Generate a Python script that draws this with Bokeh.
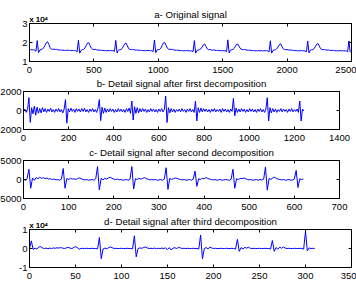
from bokeh.plotting import figure
from bokeh.layouts import column
from bokeh.models import LinearAxis, FixedTicker, Label, Range1d, Title
from bokeh.embed import file_html
from bokeh.resources import INLINE

FONT = "Liberation Sans"
BLUE = "#0000ff"

# ---------------- data ----------------
# a- original signal, one value every 10 samples, in units of 1e4
A_STEP = 10
A_Y = [
    1.62, 1.63, 1.61, 1.62, 1.60, 1.54, 2.10, 1.46, 1.60, 1.63,
    1.65, 1.72, 1.85, 1.99, 2.04, 1.90, 1.72, 1.65, 1.64, 1.65,
    1.63, 1.64, 1.62, 1.60, 1.61, 1.59, 1.60, 1.58, 1.59, 1.58,
    1.60, 1.58, 1.57, 1.59, 1.57, 1.58, 1.56, 1.52, 2.12, 1.44,
    1.58, 1.62, 1.64, 1.70, 1.83, 1.97, 1.99, 1.84, 1.70, 1.64,
    1.63, 1.64, 1.62, 1.61, 1.59, 1.60, 1.58, 1.59, 1.57, 1.58,
    1.56, 1.58, 1.57, 1.58, 1.56, 1.57, 1.53, 2.11, 1.45, 1.59,
    1.62, 1.63, 1.69, 1.81, 1.94, 1.97, 1.82, 1.68, 1.63, 1.64,
    1.62, 1.63, 1.60, 1.61, 1.59, 1.60, 1.58, 1.59, 1.57, 1.58,
    1.56, 1.58, 1.57, 1.58, 1.56, 1.57, 1.52, 2.13, 1.46, 1.60,
    1.63, 1.64, 1.70, 1.84, 1.98, 2.00, 1.85, 1.70, 1.65, 1.64,
    1.63, 1.64, 1.61, 1.60, 1.59, 1.60, 1.58, 1.57, 1.58, 1.56,
    1.57, 1.56, 1.58, 1.56, 1.57, 1.55, 1.56, 1.52, 2.10, 1.44,
    1.58, 1.61, 1.62, 1.66, 1.76, 1.88, 1.92, 1.80, 1.67, 1.62,
    1.63, 1.61, 1.60, 1.61, 1.59, 1.58, 1.59, 1.57, 1.58, 1.56,
    1.57, 1.56, 1.57, 1.52, 2.14, 1.45, 1.59, 1.62, 1.64, 1.70,
    1.82, 1.92, 1.90, 1.76, 1.66, 1.63, 1.62, 1.63, 1.61, 1.60,
    1.59, 1.60, 1.58, 1.57, 1.58, 1.56, 1.57, 1.56, 1.58, 1.56,
    1.57, 1.55, 1.57, 1.56, 1.57, 1.56, 1.51, 2.09, 1.44, 1.58,
    1.61, 1.62, 1.67, 1.77, 1.89, 1.93, 1.80, 1.67, 1.63, 1.62,
    1.63, 1.61, 1.60, 1.61, 1.59, 1.58, 1.57, 1.58, 1.56, 1.57,
    1.56, 1.58, 1.56, 1.57, 1.55, 1.51, 2.08, 1.45, 1.59, 1.62,
    1.63, 1.68, 1.80, 1.91, 1.94, 1.81, 1.68, 1.63, 1.62, 1.63,
    1.61, 1.60, 1.61, 1.59, 1.58, 1.59, 1.57, 1.58, 1.56, 1.57,
    1.56, 1.58, 1.56, 1.57, 1.56, 1.57, 1.55, 1.51, 2.08, 1.48,
]
A_XTICKS = [0, 500, 1000, 1500, 2000, 2500]
A_XLABELS = ["0", "500", "1000", "1500", "2000", "2500"]
A_YTICKS = [1, 2, 3]
A_YLABELS = ["1", "2", "3"]

# b- detail after first decomposition, one value every 6 samples
B_STEP = 6
B_Y = [
    0, 150, -200, 100, 1350, -1250, 300, -350, 450, -500,
    350, -300, 200, -250, 300, -150, 200, -200, 150, -100,
    250, -150, 100, -200, 150, -100, 200, -150, 100, -250,
    150, 1150, -1330, 200, -150, 250, -100, 150, -200, 200,
    -100, 150, -150, 200, -100, 250, -150, 100, -200, 150,
    -100, 200, -150, 100, -200, 250, 1150, -1070, 350, -300,
    250, -200, 150, -150, 200, -100, 150, -200, 100, -150,
    200, -100, 150, -150, 100, -200, 200, -100, 250, -300,
    1000, -1000, 400, -300, 300, -250, 200, -150, 200, -100,
    150, -200, 100, -150, 200, -100, 150, -150, 100, -200,
    150, -100, 200, -150, 100, 1520, -1260, 300, -250, 200,
    -150, 150, -200, 100, -100, 150, -150, 200, -100, 100,
    -200, 150, -100, 200, -150, 100, -200, 1000, -1100, 300,
    -200, 250, -150, 200, -100, 150, -150, 100, -200, 150,
    -100, 200, -150, 100, -100, 150, -200, 200, -100, 150,
    -150, 100, -200, 150, -100, 1280, -560, 250, -200, 150,
    -150, 200, -100, 150, -200, 100, -150, 200, -100, 150,
    -150, 100, -200, 150, -100, 200, -150, 100, -200, 150,
    1350, -1100, 300, -250, 200, -150, 150, -200, 100, -100,
    200, -150, 150, -100, 100, -200, 150, -100, 200, -150,
    100, -100, 150, -200, 1000, -1100, 150, -50,
]
B_XTICKS = [0, 200, 400, 600, 800, 1000, 1200, 1400]
B_XLABELS = ["0", "200", "400", "600", "800", "1000", "1200", "1400"]
B_YTICKS = [-2000, 0, 2000]
B_YLABELS = ["-2000", "0", "2000"]

# c- detail after second decomposition, one value every 4 samples
C_STEP = 4
C_Y = [
    200, -300, 300, 2700, -2300, 400, -200, 500, 200, 600,
    300, 500, 200, 400, 100, 200, 0, 100, -100, 0,
    -200, 100, 2900, -2300, 300, 0, 300, 100, 200, 0,
    300, 400, 200, 0, -100, 0, -200, -100, 0, -200,
    200, 3400, -2700, 300, -100, 300, 100, 400, 600, 300,
    100, 0, 100, -100, 0, -200, -100, 0, -200, 100,
    3400, -2500, 200, 0, 300, 100, 300, 500, 200, 100,
    -100, 0, -100, 0, -200, -100, 0, -200, 100, 3100,
    -2600, 300, 0, 200, 400, 300, 100, 0, -100, 0,
    -200, -100, 0, -200, 100, 2200, -1800, 200, 0, 300,
    200, 500, 300, 100, 0, -100, 0, -200, -100, 0,
    -200, -100, 0, -100, -200, 100, 2700, -2300, 200, 0,
    300, 200, 400, 200, 0, -100, 0, -200, -100, 0,
    -200, 0, -100, 100, 3300, -2800, 300, 0, 400, 600,
    300, 100, 0, -100, 0, -200, -100, 0, -200, -100,
    100, 2400, -2100, 200, 0, 100,
]
C_XTICKS = [0, 100, 200, 300, 400, 500, 600, 700]
C_XLABELS = ["0", "100", "200", "300", "400", "500", "600", "700"]
C_YTICKS = [-5000, 0, 5000]
C_YLABELS = ["-5000", "0", "5000"]

# d- detail after third decomposition, one value every 2 samples, units of 1e4
D_STEP = 2
D_Y = [
    0.00, 0.40, -0.05, 0.02, -0.03, 0.08, 0.10, 0.03, 0.00, 0.02,
    -0.01, 0.02, 0.00, 0.03, 0.01, 0.04, 0.02, 0.05, 0.02, 0.00,
    0.03, 0.06, 0.02, 0.00, 0.05, 0.10, 0.05, -0.04, 0.00, 0.01,
    0.00, 0.01, 0.00, 0.00, 0.01, 0.00, 0.00, -0.02, 0.58, -0.54,
    -0.02, 0.02, -0.01, 0.04, 0.08, 0.04, 0.00, 0.01, 0.00, 0.00,
    0.01, 0.00, 0.00, 0.01, 0.00, 0.00, -0.02, 0.67, -0.44, 0.00,
    0.03, 0.01, 0.05, 0.08, 0.03, 0.00, 0.01, 0.00, 0.02, 0.00,
    0.01, 0.00, 0.02, 0.00, 0.03, -0.06, 0.05, -0.08, 0.02, 0.04,
    0.00, 0.06, 0.03, 0.00, 0.01, 0.00, 0.01, 0.00, 0.00, 0.01,
    0.00, 0.00, -0.03, 0.71, -0.54, 0.00, 0.05, -0.02, 0.07, 0.03,
    0.00, 0.01, 0.00, 0.00, 0.01, 0.00, 0.00, 0.01, 0.00, 0.00,
    0.01, 0.00, -0.03, 0.48, -0.15, 0.05, -0.03, 0.06, 0.02, 0.07,
    0.01, 0.00, 0.01, 0.00, 0.00, 0.01, 0.00, 0.00, 0.01, 0.00,
    0.00, -0.03, 0.42, -0.15, 0.05, -0.03, 0.07, 0.01, 0.08, 0.02,
    0.00, 0.01, 0.00, 0.00, 0.01, 0.00, 0.00, 0.01, 0.00, -0.03,
    0.90, -0.12, 0.03, 0.00, 0.01, 0.00,
]
D_XTICKS = [0, 50, 100, 150, 200, 250, 300, 350]
D_XLABELS = ["0", "50", "100", "150", "200", "250", "300", "350"]
D_YTICKS = [-1, 0, 1]
D_YLABELS = ["-1", "0", "1"]

TITLES = [
    "a- Original signal",
    "b- Detail signal after first decomposition",
    "c- Detail signal after second decomposition",
    "d- Detail signal after third decomposition",
]
EXPONENT = "x 10\u2074"


def style_axis(ax, ticks, labels, show, standoff):
    ax.ticker = FixedTicker(ticks=ticks)
    if show:
        ax.major_label_overrides = {t: l for t, l in zip(ticks, labels)}
        ax.major_label_text_font_size = "9.5px"
        ax.major_label_standoff = standoff
    else:
        ax.major_label_overrides = {t: "" for t in ticks}
        ax.major_label_text_font_size = "1px"
        ax.major_label_standoff = 0
    ax.major_label_text_font = FONT
    ax.major_label_text_color = "black"
    ax.major_tick_in = 3
    ax.major_tick_out = 0
    ax.minor_tick_line_color = None
    ax.axis_line_color = "black"
    ax.major_tick_line_color = "black"
    ax.axis_line_width = 1


def panel(ys, step, xr, yr, xt, xl, yt, yl, title, top, bottom, left, shift, exp, title_dy):
    xs = [i * step for i in range(len(ys))]
    p = figure(frame_width=322, frame_height=38,
               x_range=Range1d(*xr), y_range=Range1d(yr[0], yr[1] + (yr[1] - yr[0]) * 1e-6),
               output_backend="svg", toolbar_location=None,
               min_border_left=left, min_border_right=12,
               min_border_top=top, min_border_bottom=bottom)
    p.grid.visible = False
    p.outline_line_color = "black"
    p.background_fill_color = "white"
    p.border_fill_color = "white"
    style_axis(p.xaxis[0], xt, xl, True, 5)
    style_axis(p.yaxis[0], yt, yl, True, 2)
    top_ax = LinearAxis()
    right_ax = LinearAxis()
    style_axis(top_ax, xt, xl, False, 0)
    style_axis(right_ax, yt, yl, False, 0)
    p.add_layout(right_ax, "right")
    p.line(xs, ys, line_color=BLUE, line_width=1)

    title_label = Label(x=(xr[0] + xr[1]) / 2, y=0, y_units="screen", y_offset=title_dy,
                        text=title, text_align="center", text_baseline="bottom",
                        text_font=FONT, text_font_size="9.7px", text_color="black")
    if exp:
        ex = Title(text=EXPONENT, align="left", offset=0, standoff=-22,
                   vertical_align="bottom", text_font=FONT, text_font_size="8px",
                   text_font_style="normal", text_color="black")
        p.title = ex
        p.above = [top_ax, title_label, ex]
    else:
        p.title.text = ""
        p.above = [top_ax, title_label, p.title]
    if shift:
        p.margin = (0, 0, 0, -shift)
    return p


pa = panel(A_Y, A_STEP, (0, 2500), (1, 3), A_XTICKS, A_XLABELS, A_YTICKS, A_YLABELS,
           TITLES[0], 23, 17, 22, 0, True, 4)
pb = panel(B_Y, B_STEP, (0, 1400), (-2000, 2000), B_XTICKS, B_XLABELS, B_YTICKS, B_YLABELS,
           TITLES[1], 13, 17, 28, 6, False, 3)
pc = panel(C_Y, C_STEP, (0, 700), (-5000, 5000), C_XTICKS, C_XLABELS, C_YTICKS, C_YLABELS,
           TITLES[2], 14, 17, 28, 6, False, 3)
pd = panel(D_Y, D_STEP, (0, 350), (-1, 1), D_XTICKS, D_XLABELS, D_YTICKS, D_YLABELS,
           TITLES[3], 14, 17, 22, 0, True, 3)

layout = column(pa, pb, pc, pd, spacing=0)
open("out.html", "w").write(file_html(layout, INLINE))
